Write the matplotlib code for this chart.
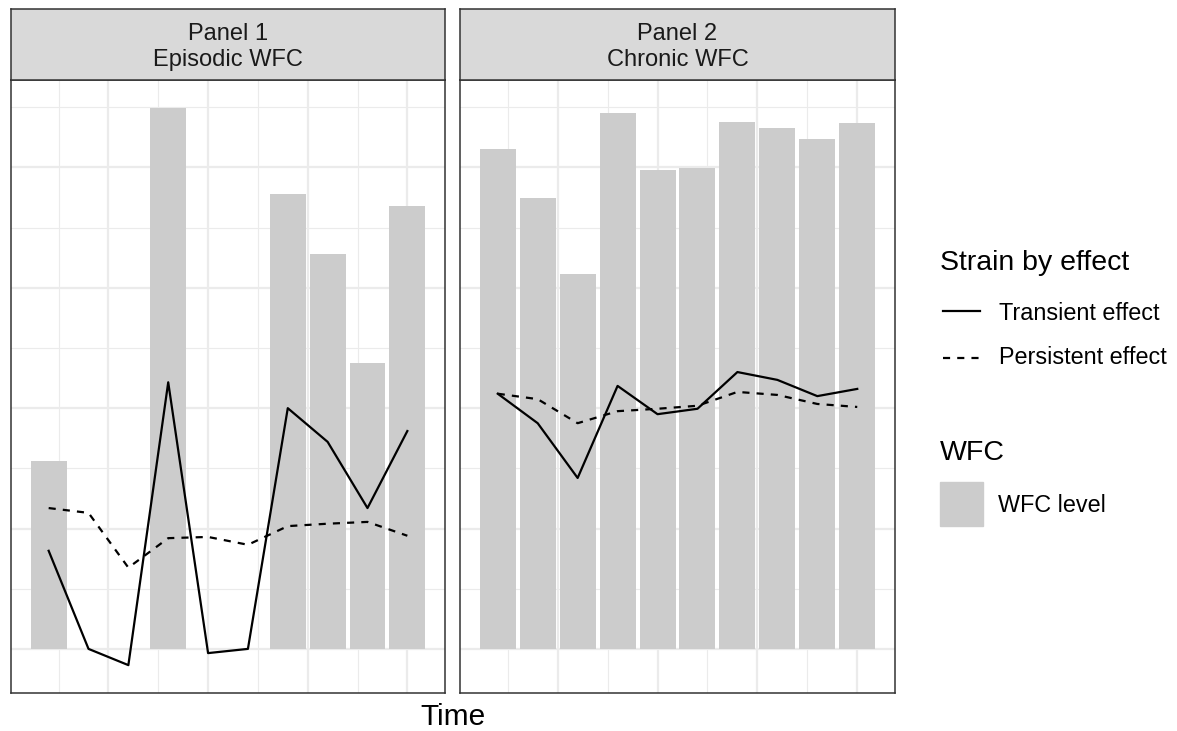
import matplotlib.pyplot as plt
from matplotlib.lines import Line2D
from matplotlib.patches import Rectangle

plt.rcParams['font.family'] = ['Liberation Sans', 'DejaVu Sans']

# data (arbitrary y units)
time = [1, 2, 3, 4, 5, 6, 7, 8, 9, 10]
panel_titles = ['Panel 1\nEpisodic WFC', 'Panel 2\nChronic WFC']

wfc_episodic = [3.12, 0, 0, 8.99, 0, 0, 7.56, 6.56, 4.75, 7.36]
transient_episodic = [1.63, 0.0, -0.27, 4.43, -0.07, 0.0, 4.0, 3.44, 2.34, 3.62]
persistent_episodic = [2.34, 2.26, 1.35, 1.84, 1.86, 1.73, 2.04, 2.08, 2.11, 1.88]

wfc_chronic = [8.31, 7.49, 6.23, 8.90, 7.96, 7.99, 8.75, 8.65, 8.47, 8.74]
transient_chronic = [4.24, 3.75, 2.84, 4.37, 3.90, 3.99, 4.60, 4.47, 4.20, 4.32]
persistent_chronic = [4.24, 4.15, 3.75, 3.95, 3.99, 4.04, 4.27, 4.22, 4.07, 4.02]

W, H = 1177, 731


def px_rect(x0, y0, x1, y1):
    return [x0 / W, 1 - y1 / H, (x1 - x0) / W, (y1 - y0) / H]


def fx(x):
    return x / W


def fy(y):
    return 1 - y / H


fig = plt.figure(figsize=(W / 100, H / 100), dpi=100)

# shared y range, ggplot-style 5% expansion
all_vals = (wfc_episodic + transient_episodic + persistent_episodic
            + wfc_chronic + transient_chronic + persistent_chronic)
lo, hi = min(all_vals), max(all_vals)
pad = (hi - lo) * 0.05

LW = 1.6
DASH = (0, (3.2, 3.2))

panels = [
    (11, 445, wfc_episodic, transient_episodic, persistent_episodic),
    (460, 895, wfc_chronic, transient_chronic, persistent_chronic),
]

for (x0, x1, wfc, trans, pers), title in zip(panels, panel_titles):
    ax = fig.add_axes(px_rect(x0, 80, x1, 693))
    ax.set_axisbelow(True)
    ax.bar(time, wfc, width=0.9, color='#CCCCCC', zorder=2)
    ax.plot(time, trans, color='black', lw=LW, zorder=3)
    ax.plot(time, pers, color='black', lw=LW, ls=DASH, zorder=3)
    ax.set_xlim(0.055, 10.945)
    ax.set_ylim(lo - pad, hi + pad)
    ax.set_xticks([2.5, 5, 7.5, 10])
    ax.set_xticks([1.25, 3.75, 6.25, 8.75], minor=True)
    ax.set_yticks([0, 2, 4, 6, 8])
    ax.set_yticks([1, 3, 5, 7, 9], minor=True)
    ax.grid(which='major', color='#EBEBEB', lw=1.6)
    ax.grid(which='minor', color='#EBEBEB', lw=0.8)
    ax.tick_params(which='both', length=0, labelbottom=False, labelleft=False)
    for s in ax.spines.values():
        s.set_color('#333333')
        s.set_linewidth(1.1)

    sax = fig.add_axes(px_rect(x0, 9, x1, 80))
    sax.set_facecolor('#D9D9D9')
    sax.set_xticks([])
    sax.set_yticks([])
    for s in sax.spines.values():
        s.set_color('#333333')
        s.set_linewidth(1.1)
    sax.text(0.5, 0.47, title, transform=sax.transAxes, ha='center', va='center',
             fontsize=17, color='#1A1A1A', linespacing=1.25)

fig.text(fx(453), fy(725), 'Time', ha='center', va='baseline', fontsize=21.5)

# legend: Strain by effect
fig.text(fx(940), fy(270), 'Strain by effect', ha='left', va='baseline', fontsize=20.5)
fig.add_artist(Line2D([fx(943), fx(980)], [fy(311), fy(311)], color='black', lw=LW,
                      transform=fig.transFigure))
fig.text(fx(999), fy(320), 'Transient effect', ha='left', va='baseline', fontsize=16.8)
fig.add_artist(Line2D([fx(943), fx(980)], [fy(358), fy(358)], color='black', lw=LW,
                      ls=DASH, transform=fig.transFigure))
fig.text(fx(999), fy(364), 'Persistent effect', ha='left', va='baseline', fontsize=16.8)

# legend: WFC
fig.text(fx(940), fy(460), 'WFC', ha='left', va='baseline', fontsize=20.5)
fig.add_artist(Rectangle((fx(940), fy(526)), fx(983) - fx(940), fy(482) - fy(526),
                         color='#CCCCCC', transform=fig.transFigure))
fig.text(fx(998), fy(512), 'WFC level', ha='left', va='baseline', fontsize=16.8)

fig.savefig('out.png', dpi=100)
